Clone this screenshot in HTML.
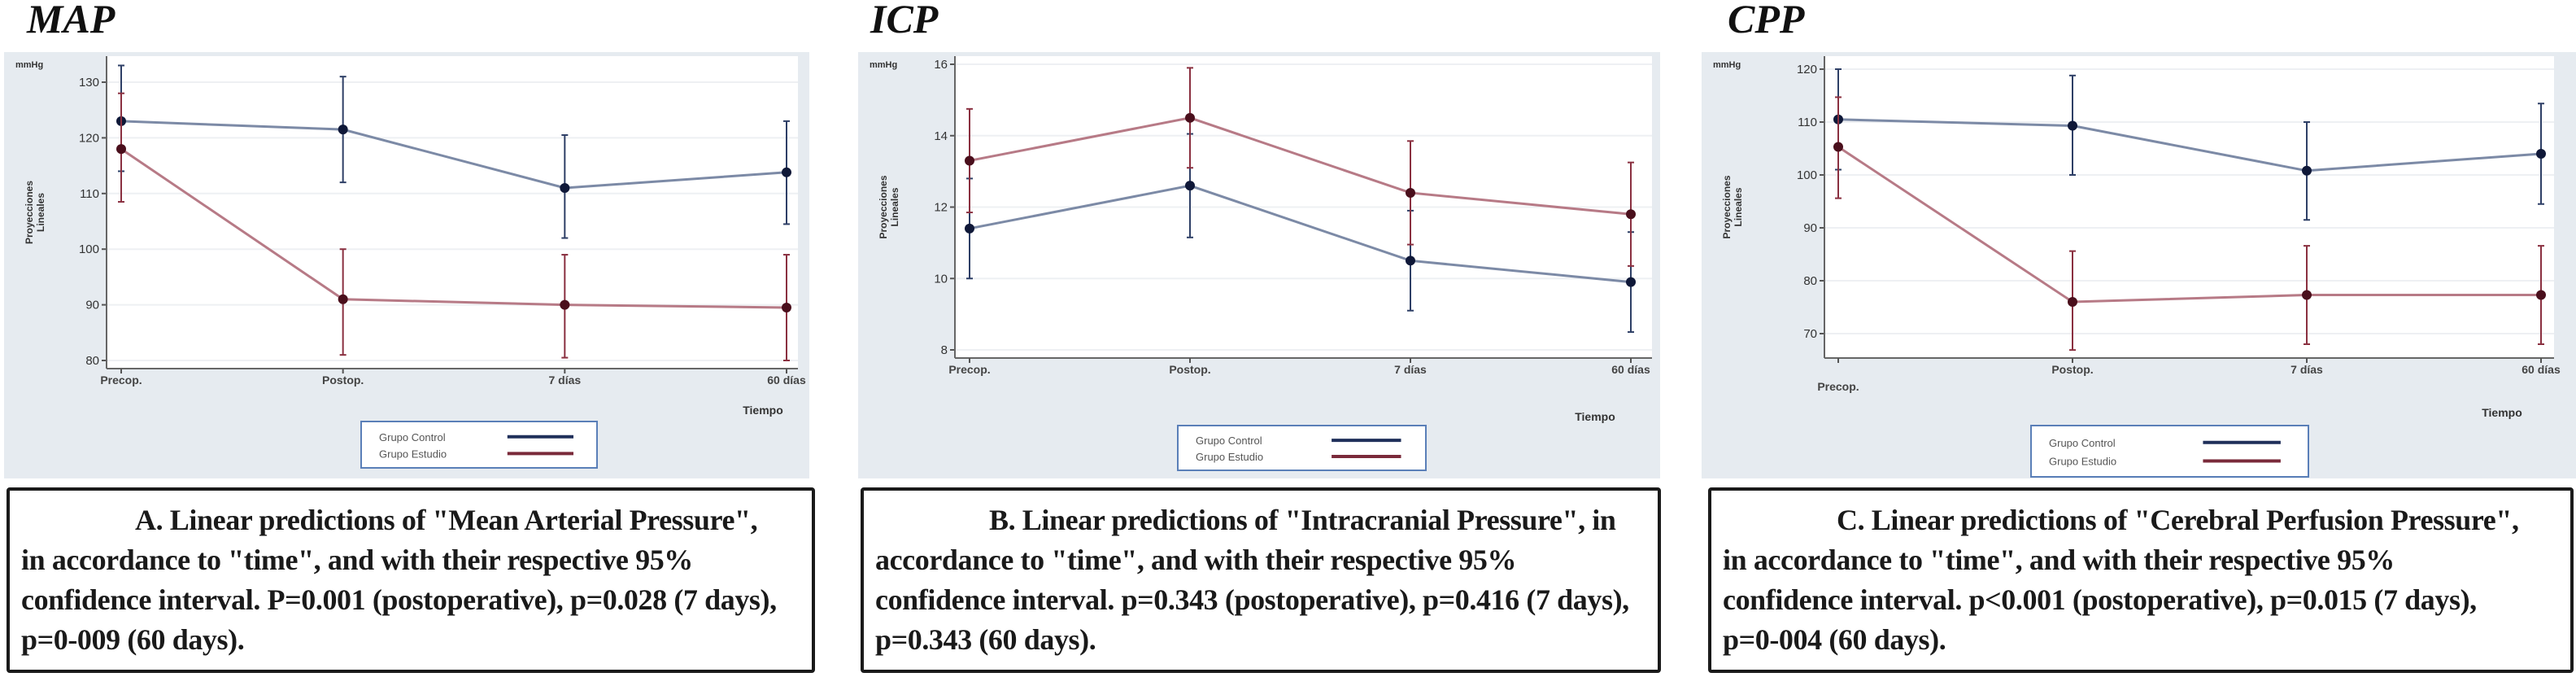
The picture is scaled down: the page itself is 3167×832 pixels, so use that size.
<!DOCTYPE html>
<html><head><meta charset="utf-8">
<style>
html,body{margin:0;padding:0;background:#fff;}
body{width:3167px;height:832px;overflow:hidden;position:relative;}
svg{position:absolute;left:0;top:0;}
.cap{position:absolute;border:4px solid #1a1a1a;border-radius:4px;box-sizing:border-box;background:#fff;
 font-family:"Liberation Serif",serif;font-size:36px;line-height:49px;color:#1a1a1a;padding:12px 14px 0 14px;font-weight:bold;letter-spacing:-0.4px;white-space:nowrap;overflow:hidden;}
.ttl{position:absolute;font-family:"Liberation Serif",serif;font-style:italic;font-weight:bold;font-size:50px;color:#111;}
</style></head>
<body>
<div class="ttl" style="left:33px;top:-6px;">MAP</div>
<div class="ttl" style="left:1070px;top:-6px;">ICP</div>
<div class="ttl" style="left:2124px;top:-6px;">CPP</div>
<svg id="chart" width="3167" height="832" viewBox="0 0 3167 832"></svg>
<div class="cap" style="left:8px;top:599px;width:994px;height:228px;"><span style="padding-left:140px">A. Linear predictions of "Mean Arterial Pressure",</span><br>in accordance to "time", and with their respective 95%<br>confidence interval. P=0.001 (postoperative), p=0.028 (7 days),<br>p=0-009 (60 days).</div>
<div class="cap" style="left:1058px;top:599px;width:984px;height:228px;"><span style="padding-left:140px">B. Linear predictions of "Intracranial Pressure", in</span><br>accordance to "time", and with their respective 95%<br>confidence interval. p=0.343 (postoperative), p=0.416 (7 days),<br>p=0.343 (60 days).</div>
<div class="cap" style="left:2100px;top:599px;width:1064px;height:228px;"><span style="padding-left:140px">C. Linear predictions of "Cerebral Perfusion Pressure",</span><br>in accordance to "time", and with their respective 95%<br>confidence interval. p&lt;0.001 (postoperative), p=0.015 (7 days),<br>p=0-004 (60 days).</div>
<script>
const categories = ["Precop.", "Postop.", "7 días", "60 días"];
const mapControl = [123, 121.5, 111, 113.8];
const mapControlLo = [114, 112, 102, 104.5];
const mapControlHi = [133, 131, 120.5, 123];
const mapEstudio = [118, 91, 90, 89.5];
const mapEstudioLo = [108.5, 81, 80.5, 80];
const mapEstudioHi = [128, 100, 99, 99];
const mapTicks = [80, 90, 100, 110, 120, 130];
const icpControl = [11.4, 12.6, 10.5, 9.9];
const icpControlLo = [10.0, 11.15, 9.1, 8.5];
const icpControlHi = [12.8, 14.05, 11.9, 11.3];
const icpEstudio = [13.3, 14.5, 12.4, 11.8];
const icpEstudioLo = [11.85, 13.1, 10.95, 10.35];
const icpEstudioHi = [14.75, 15.9, 13.85, 13.25];
const icpTicks = [8, 10, 12, 14, 16];
const cppControl = [110.5, 109.3, 100.8, 104];
const cppControlLo = [101, 100, 91.5, 94.5];
const cppControlHi = [120, 118.8, 110, 113.5];
const cppEstudio = [105.3, 76, 77.3, 77.3];
const cppEstudioLo = [95.6, 66.9, 68, 68];
const cppEstudioHi = [114.7, 85.6, 86.6, 86.6];
const cppTicks = [70, 80, 90, 100, 110, 120];

const NS = "http://www.w3.org/2000/svg";
const svg = document.getElementById("chart");
function mk(tag, attrs, parent) {
  const e = document.createElementNS(NS, tag);
  for (const k in attrs) e.setAttribute(k, attrs[k]);
  (parent || svg).appendChild(e);
  return e;
}
function panel(cfg) {
  const g = mk("g", {});
  
  
  const bg = mk("rect", {x: cfg.bx0, y: 64, width: cfg.bx1 - cfg.bx0, height: 524, fill: "#e6ebf0"}, g);
  
  
  const pa = mk("rect", {x: cfg.px0, y: 69, width: cfg.px1 - cfg.px0, height: cfg.axisY - 69, fill: "#fff"}, g);
  
  
  const y = v => cfg.yTop + (cfg.dTop - v) / (cfg.dTop - cfg.dBot) * (cfg.yBot - cfg.yTop);
  const x = i => cfg.xs0 + i * (cfg.xs1 - cfg.xs0) / (categories.length - 1);
  cfg.ticks.forEach(t => {
    const gl = mk("line", {x1: cfg.px0, x2: cfg.px1, y1: y(t), y2: y(t), stroke: "#eef0f3", "stroke-width": 2}, g);
    
    
    mk("line", {x1: cfg.px0 - 6, x2: cfg.px0, y1: y(t), y2: y(t), stroke: "#555", "stroke-width": 2}, g);
    const tl = mk("text", {x: cfg.px0 - 9, y: y(t) + 5, "text-anchor": "end", "font-size": 15, fill: "#333", "font-family": "Liberation Sans, sans-serif"}, g);
    tl.textContent = t;
    
    
  });
  mk("line", {x1: cfg.px0, x2: cfg.px0, y1: 69, y2: cfg.axisY, stroke: "#666", "stroke-width": 2}, g);
  mk("line", {x1: cfg.px0, x2: cfg.px1, y1: cfg.axisY, y2: cfg.axisY, stroke: "#666", "stroke-width": 2}, g);
  const unit = mk("text", {x: cfg.bx0 + 14, y: 83, "font-size": 11, "font-weight": "bold", fill: "#333", "font-family": "Liberation Sans, sans-serif"}, g);
  unit.textContent = "mmHg";
  
  
  const yt = mk("text", {transform: `translate(${cfg.bx0 + 35},${(69 + cfg.axisY) / 2}) rotate(-90)`, "text-anchor": "middle", "font-size": 12, "font-weight": "bold", fill: "#333", "font-family": "Liberation Sans, sans-serif"}, g);
  yt.innerHTML = '<tspan x="0" dy="0">Proyecciones</tspan><tspan x="0" dy="14">Lineales</tspan>';
  
  
  categories.forEach((c, i) => {
    mk("line", {x1: x(i), x2: x(i), y1: cfg.axisY, y2: cfg.axisY + 6, stroke: "#555", "stroke-width": 2}, g);
    const ly = (i === 0 && cfg.lowFirst) ? 480 : cfg.axisY + 19;
    const xl = mk("text", {x: x(i), y: ly, "text-anchor": "middle", "font-size": 14, "font-weight": "bold", fill: "#444", "font-family": "Liberation Sans, sans-serif"}, g);
    xl.textContent = c;
    
    
  });
  const tp = mk("text", {x: cfg.tiempoX, y: cfg.tiempoY, "text-anchor": "middle", "font-size": 14, "font-weight": "bold", fill: "#333", "font-family": "Liberation Sans, sans-serif"}, g);
  tp.textContent = "Tiempo";
  
  
  const series = [
    {v: cfg.control, lo: cfg.cLo, hi: cfg.cHi, line: "#7c8aa6", bar: "#2e3f66", dot: "#0f1838", name: "control"},
    {v: cfg.estudio, lo: cfg.eLo, hi: cfg.eHi, line: "#b77a86", bar: "#8a3040", dot: "#4a0f1c", name: "estudio"}
  ];
  series.forEach(s => {
    s.v.forEach((v, i) => {
      const eb = mk("line", {x1: x(i), x2: x(i), y1: y(s.lo[i]), y2: y(s.hi[i]), stroke: s.bar, "stroke-width": 2}, g);
      
      
      mk("line", {x1: x(i) - 4, x2: x(i) + 4, y1: y(s.lo[i]), y2: y(s.lo[i]), stroke: s.bar, "stroke-width": 2}, g);
      mk("line", {x1: x(i) - 4, x2: x(i) + 4, y1: y(s.hi[i]), y2: y(s.hi[i]), stroke: s.bar, "stroke-width": 2}, g);
    });
    const pl = mk("polyline", {points: s.v.map((v, i) => x(i) + "," + y(v)).join(" "), fill: "none", stroke: s.line, "stroke-width": 3}, g);
    
    
    s.v.forEach((v, i) => {
      const d = mk("circle", {cx: x(i), cy: y(v), r: 6, fill: s.dot}, g);
      
      
    });
  });
  const lg = mk("g", {}, g);
  
  
  mk("rect", {x: cfg.lx, y: cfg.ly, width: cfg.lw, height: cfg.lh, fill: "#fff", stroke: "#5a7fb8", "stroke-width": 2}, lg);
  [["Grupo Control", "#1f2f5a"], ["Grupo Estudio", "#7a2a3a"]].forEach((e, k) => {
    const yy = cfg.ly + cfg.lh * (0.33 + k * 0.36);
    const t = mk("text", {x: cfg.lx + 22, y: yy + 5, "font-size": 13, fill: "#555", "font-family": "Liberation Sans, sans-serif"}, lg);
    t.textContent = e[0];
    
    
    mk("line", {x1: cfg.lx + cfg.lw * 0.62, x2: cfg.lx + cfg.lw * 0.9, y1: yy, y2: yy, stroke: e[1], "stroke-width": 4}, lg);
  });
}
panel({name: "map-chart", bx0: 5, bx1: 995, px0: 131, px1: 981, axisY: 453, yTop: 101, yBot: 443, dTop: 130, dBot: 80,
  xs0: 149, xs1: 967, ticks: mapTicks, control: mapControl, cLo: mapControlLo, cHi: mapControlHi,
  estudio: mapEstudio, eLo: mapEstudioLo, eHi: mapEstudioHi, tiempoX: 938, tiempoY: 509, lx: 444, ly: 518, lw: 290, lh: 57});
panel({name: "icp-chart", bx0: 1055, bx1: 2041, px0: 1174, px1: 2031, axisY: 440, yTop: 79, yBot: 430, dTop: 16, dBot: 8,
  xs0: 1192, xs1: 2005, ticks: icpTicks, control: icpControl, cLo: icpControlLo, cHi: icpControlHi,
  estudio: icpEstudio, eLo: icpEstudioLo, eHi: icpEstudioHi, tiempoX: 1961, tiempoY: 517, lx: 1448, ly: 523, lw: 305, lh: 55});
panel({name: "cpp-chart", bx0: 2092, bx1: 3167, px0: 2243, px1: 3140, axisY: 440, yTop: 85, yBot: 410, dTop: 120, dBot: 70,
  xs0: 2260, xs1: 3124, ticks: cppTicks, control: cppControl, cLo: cppControlLo, cHi: cppControlHi,
  estudio: cppEstudio, eLo: cppEstudioLo, eHi: cppEstudioHi, tiempoX: 3076, tiempoY: 512, lx: 2497, ly: 523, lw: 341, lh: 63, lowFirst: true});
</script>
</body></html>
